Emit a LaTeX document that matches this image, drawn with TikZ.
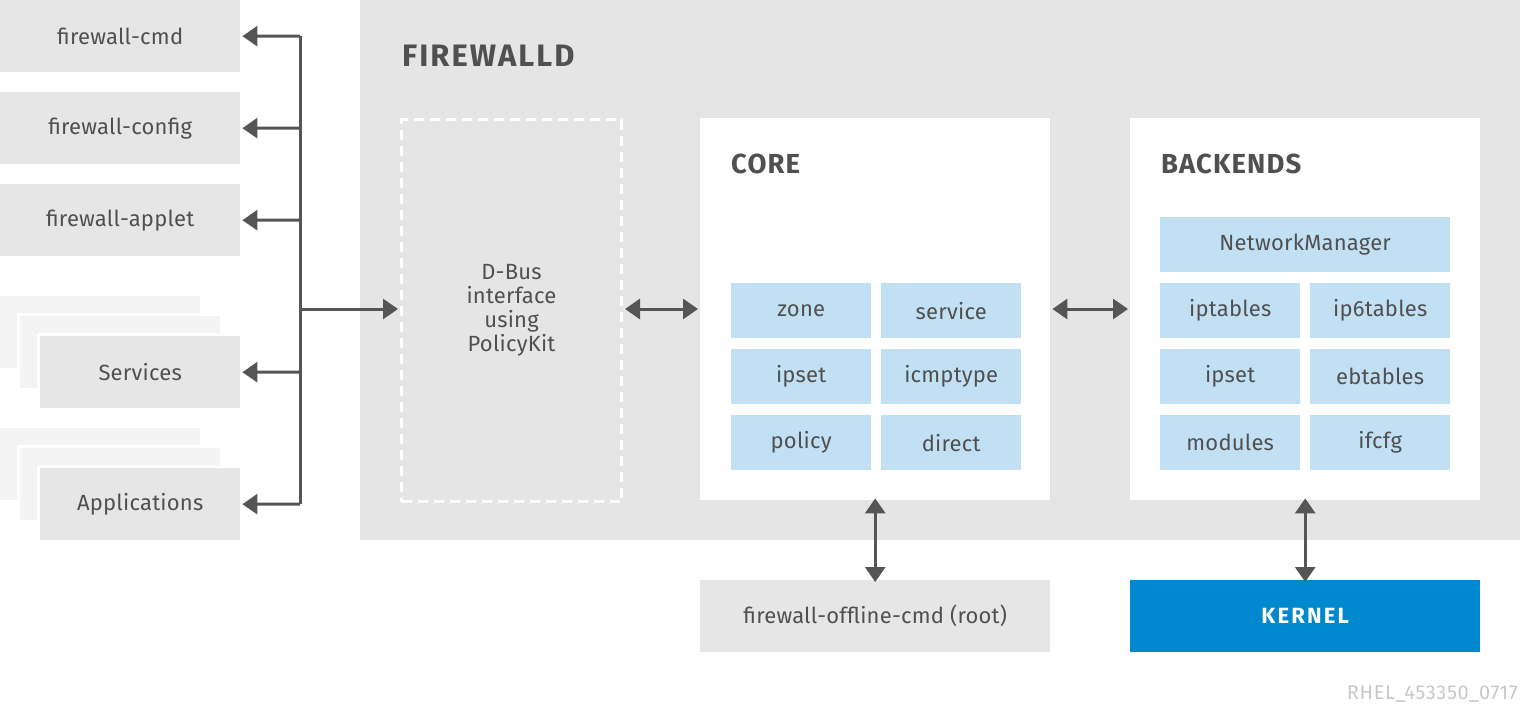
\documentclass[tikz,border=0pt]{standalone}
\usepackage{fontspec}
\setmainfont{Fira Sans}
\newfontfamily\bodyfont[LetterSpace=1]{Fira Sans}
\newfontfamily\titlefont[LetterSpace=4]{Fira Sans}
\newfontfamily\bigtitlefont[LetterSpace=6.5]{Fira Sans}
\newfontfamily\kernfont[LetterSpace=10]{Fira Sans}
\newfontfamily\idfont[LetterSpace=3]{Fira Sans}
\usetikzlibrary{arrows.meta}
\definecolor{boxgray}{HTML}{E6E6E6}
\definecolor{fwgray}{HTML}{E5E5E5}
\definecolor{ghost}{HTML}{F3F3F3}
\definecolor{cellblue}{HTML}{C1E0F3}
\definecolor{kernblue}{HTML}{0088CE}
\definecolor{txt}{HTML}{505050}
\definecolor{arr}{HTML}{555555}
\definecolor{idgray}{HTML}{C8C8C8}
\tikzset{
  box/.style={rectangle, anchor=north west, inner sep=0pt, text=txt, font=\bodyfont\fontsize{22}{25}\selectfont},
  client/.style={box, fill=boxgray, minimum width=240pt, minimum height=72pt},
  ghostbox/.style={box, fill=ghost, preaction={draw=white, line width=6pt}, minimum width=200pt, minimum height=72pt},
  frontbox/.style={box, fill=boxgray, preaction={draw=white, line width=6pt}, minimum width=200pt, minimum height=72pt},
  panel/.style={box, fill=white, minimum width=350pt, minimum height=382pt},
  cell/.style={box, fill=cellblue, minimum width=140pt, minimum height=55pt},
  title/.style={anchor=base west, inner sep=0pt, text=txt, font=\titlefont\bfseries\fontsize{27.5}{30}\selectfont},
  conn/.style={draw=arr, line width=3pt, -{Triangle[length=15pt,width=20pt]}},
  biconn/.style={draw=arr, line width=3pt, {Triangle[length=15pt,width=20pt]}-{Triangle[length=15pt,width=20pt]}},
}
\begin{document}
\begin{tikzpicture}[x=1pt,y=-1pt]
\useasboundingbox (0,0) rectangle (1520,712);
% clients
\node[client] (cmd) at (0,0) {firewall-cmd};
\node[client] (config) at (0,92) {firewall-config};
\node[client] (applet) at (0,184) {firewall-applet};
\node[ghostbox] (sg1) at (0,296) {};
\node[ghostbox] (sg2) at (20,316) {};
\node[frontbox] (services) at (40,336) {Services};
\node[ghostbox] (ag1) at (0,428) {};
\node[ghostbox] (ag2) at (20,448) {};
\node[frontbox] (apps) at (40,468) {Applications};
% firewalld
\node[box, fill=fwgray, minimum width=1160pt, minimum height=540pt] (fw) at (360,0) {};
\node[title, font=\bigtitlefont\bfseries\fontsize{31}{34}\selectfont] (fwt) at (402,66.5) {FIREWALLD};
\node[box, draw=white, dash pattern=on 10pt off 6pt, line width=3pt, minimum width=220pt, minimum height=382pt, align=center, font=\bodyfont\fontsize{22}{24}\selectfont] (dbus) at (400,118) {D-Bus\\interface\\using\\PolicyKit};
\node[panel] (core) at (700,118) {};
\node[title] (coret) at (731,173) {CORE};
\node[cell] (zone) at (731,283) {zone};
\node[cell] (service) at (881,283) {service};
\node[cell] (ipset) at (731,349) {ipset};
\node[cell] (icmp) at (881,349) {icmptype};
\node[cell] (policy) at (731,415) {policy};
\node[cell] (direct) at (881,415) {direct};
\node[panel] (back) at (1130,118) {};
\node[title] (backt) at (1161,173) {BACKENDS};
\node[cell, minimum width=290pt] (nm) at (1160,217) {NetworkManager};
\node[cell] (ipt) at (1160,283) {iptables};
\node[cell] (ip6) at (1310,283) {ip6tables};
\node[cell] (bipset) at (1160,349) {ipset};
\node[cell] (ebt) at (1310,349) {ebtables};
\node[cell] (mods) at (1160,415) {modules};
\node[cell] (ifcfg) at (1310,415) {ifcfg};
% bottom
\node[box, fill=boxgray, minimum width=350pt, minimum height=72pt] (offline) at (700,580) {firewall-offline-cmd (root)};
\node[box, fill=kernblue, text=white, minimum width=350pt, minimum height=72pt, font=\kernfont\bfseries\fontsize{22}{24}\selectfont] (kernel) at (1130,580) {\raisebox{-3pt}{KERNEL}};
\node[anchor=base east, inner sep=0pt, text=idgray, font=\idfont\fontsize{20}{22}\selectfont] (rid) at (1518,699) {RHEL\_453350\_0717};
% trunk
\coordinate (tcmd) at (300,36);
\coordinate (tconfig) at (300,128);
\coordinate (tapplet) at (300,220);
\coordinate (tdbus) at (300,309);
\coordinate (tserv) at (300,372);
\coordinate (tapps) at (300,504);
\draw[draw=arr, line width=3pt] (tcmd) -- (tapps);
\draw[conn] (tcmd) -- ([xshift=2pt]cmd.east);
\draw[conn] (tconfig) -- ([xshift=2pt]config.east);
\draw[conn] (tapplet) -- ([xshift=2pt]applet.east);
\draw[conn] (tserv) -- ([xshift=2pt]services.east);
\draw[conn] (tapps) -- ([xshift=2pt]apps.east);
\coordinate (dw) at (dbus.west |- tdbus);
\draw[conn] (tdbus) -- ([xshift=-2pt]dw);
\coordinate (dc) at (dbus.east |- tdbus);
\coordinate (cc) at (core.west |- tdbus);
\draw[biconn] ([xshift=2pt]dc) -- ([xshift=-2pt]cc);
\coordinate (cb) at (core.east |- tdbus);
\coordinate (bb) at (back.west |- tdbus);
\draw[biconn] ([xshift=2pt]cb) -- ([xshift=-2pt]bb);
\draw[biconn] ([yshift=2pt]core.south) -- ([yshift=-2pt]offline.north);
\draw[biconn] ([yshift=2pt]back.south) -- ([yshift=-2pt]kernel.north);
\end{tikzpicture}
\end{document}
